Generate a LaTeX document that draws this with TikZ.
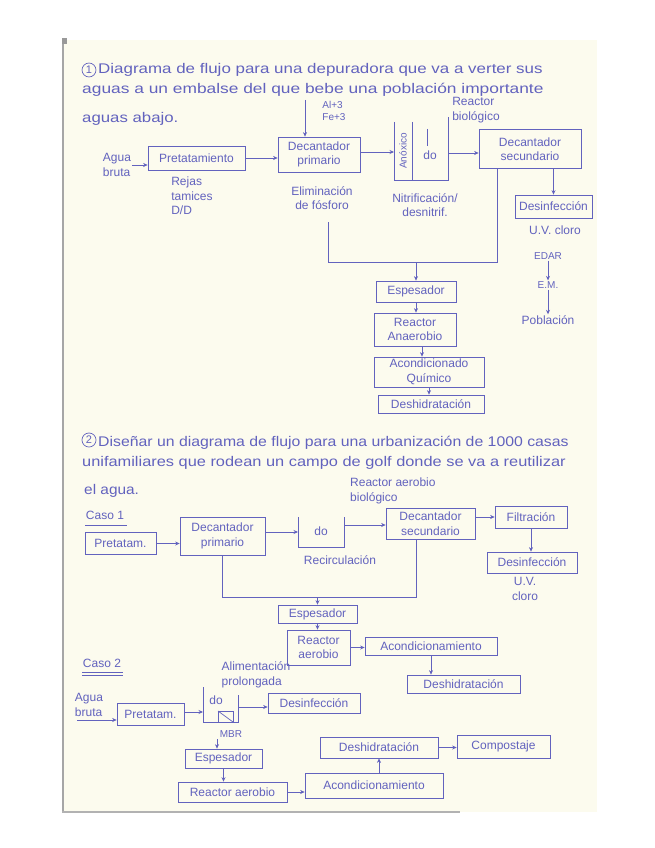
\documentclass[tikz,border=0pt]{standalone}
\usepackage{fontspec}
\usepackage{graphicx}
\setmainfont{Liberation Sans}
\usetikzlibrary{arrows.meta}
\definecolor{ink}{RGB}{98,98,190}
\definecolor{paper}{RGB}{252,251,238}
\tikzset{
 lbl/.style={text=ink,font=\fontsize{12}{14.5}\selectfont,inner sep=1pt,align=center},
 lbll/.style={lbl,align=left},
 small/.style={lbl,font=\fontsize{10}{12.5}\selectfont},
 ttl/.style={text=ink,font=\fontsize{14}{17}\selectfont,inner sep=0pt,anchor=base west},
 num/.style={draw=ink,circle,line width=0.7pt,inner sep=1.5pt,text=ink,font=\fontsize{11}{12}\selectfont},
 box/.style={draw=ink,line width=0.7pt,text=ink,font=\fontsize{12}{14.5}\selectfont,inner sep=0pt,align=center},
 flow/.style={draw=ink,line width=0.7pt,-{Stealth[length=4.5pt,width=4pt]}},
 wire/.style={draw=ink,line width=0.7pt},
}
\begin{document}
\begin{tikzpicture}[x=1pt,y=-1pt]
\useasboundingbox (0,0) rectangle (655,848);
% paper
\fill[paper] (62,40) rectangle (597,812);
\draw[gray!70,line width=1.5pt] (63,40) -- (63,812);
\draw[gray!60,line width=1.2pt] (62,812) -- (460,812);
\fill[gray!80] (62,38) rectangle (67,44);

%================ Section 1 =================
\node[num] (c1) at (89,70) {1};
\node[ttl] (t1a) at (98,74) {\scalebox{1.21}[1]{Diagrama de flujo para una depuradora que va a verter sus}};
\node[ttl] (t1b) at (82,94) {\scalebox{1.24}[1]{aguas a un embalse del que bebe una población importante}};
\node[ttl] (t1c) at (82,122) {\scalebox{1.2}[1]{aguas abajo.}};

\node[lbll] (aguab) at (117,165) {Agua\\bruta};
\node[box,minimum width=97pt,minimum height=24pt] (pret1) at (196.5,158) {Pretatamiento};
\node[lbll] (rejas) at (192,196) {Rejas\\tamices\\D/D};
\node[box,minimum width=82pt,minimum height=35pt] (dec1) at (319,154.5) {Decantador\\primario};
\node[small,align=left] (alfe) at (334,111) {Al+3\\Fe+3};
\coordinate (alin) at (305,100);
\node[lbl] (elim) at (322,198) {Eliminación\\de fósforo};

% reactor 1
\draw[wire] (394,122) -- (394,180) -- (448,180) -- (448,117);
\draw[wire] (412,122) -- (412,180);
\node[small,rotate=90] (anox) at (403,151) {Anóxico};
\draw[wire] (427,129) -- (427,146);
\node[lbl] (do1) at (430,155) {do};
\coordinate (r1in) at (394,152);
\coordinate (r1out) at (448,153);
\node[lbll] (rb1) at (476,110) {Reactor\\biológico};
\node[lbl] (nitri) at (425,205) {Nitrificación/\\desnitrif.};

\node[box,minimum width=102pt,minimum height=39pt] (dec2) at (530,149) {Decantador\\secundario};
\node[box,minimum width=77pt,minimum height=23pt] (desinf1) at (553.5,206.5) {Desinfección};
\node[lbl] (uv1) at (555,230) {U.V. cloro};
\node[small] (edar) at (548,256) {EDAR};
\node[small] (em) at (548,285) {E.M.};
\node[lbl] (pobl) at (548,320) {Población};

\node[box,minimum width=80pt,minimum height=21pt] (esp1) at (416,291.5) {Espesador};
\node[box,minimum width=82pt,minimum height=33pt] (rean1) at (415,329.5) {Reactor\\Anaerobio};
\node[box,minimum width=110pt,minimum height=30pt] (acon1) at (429,372) {Acondicionado\\Químico};
\node[box,minimum width=106pt,minimum height=18pt] (desh1) at (431,404) {Deshidratación};

\coordinate (s1a) at (328,222);
\coordinate (s1b) at (497,262);

\draw[flow] (aguab.east) -- (aguab.east -| pret1.west);
\draw[flow] (pret1.east) -- (pret1.east -| dec1.west);
\draw[flow] (alin) -- (alin |- dec1.north);
\draw[flow] (dec1.east |- r1in) -- (r1in);
\draw[flow] (r1out) -- (r1out -| dec2.west);
\draw[flow] (desinf1.north |- dec2.south) -- (desinf1.north);
\draw[flow] (edar.south) -- (em.north);
\draw[flow] (em.south) -- (pobl.north);
\draw[wire] (s1a) |- (s1b) -- (s1b |- dec2.south);
\draw[flow] (esp1.north |- s1b) -- (esp1.north);
\draw[flow] (esp1.south) -- (esp1.south |- rean1.north);
\draw[flow] (rean1.south -| 422,0) -- (acon1.north -| 422,0);
\draw[flow] (acon1.south) -- (acon1.south |- desh1.north);

%================ Section 2 =================
\node[num] (c2) at (89,440) {2};
\node[ttl] (t2a) at (98,446) {\scalebox{1.13}[1]{Diseñar un diagrama de flujo para una urbanización de 1000 casas}};
\node[ttl] (t2b) at (82,466) {\scalebox{1.17}[1]{unifamiliares que rodean un campo de golf donde se va a reutilizar}};
\node[ttl] (t2c) at (84,494) {\scalebox{1.1}[1]{el agua.}};

\node[lbl] (caso1) at (105,515) {Caso 1};
\draw[wire] (85,525) -- (127,525);

\node[box,minimum width=71pt,minimum height=22pt] (pret2) at (120.5,543.5) {Pretatam.};
\node[box,minimum width=85pt,minimum height=38pt] (dec3) at (222.5,536) {Decantador\\primario};
\draw[wire] (298,517) -- (298,547) -- (344,547) -- (344,517);
\node[lbl] (do2) at (321,531) {do};
\coordinate (r2in) at (298,532);
\coordinate (r2out) at (344,525);
\node[lbl] (recir) at (340,560) {Recirculación};
\node[lbll,anchor=west] (rab) at (349,491) {Reactor aerobio\\biológico};
\node[box,minimum width=89pt,minimum height=31pt] (dec4) at (430.5,523.5) {Decantador\\secundario};
\node[box,minimum width=72pt,minimum height=22pt] (filt) at (531,517) {Filtración};
\node[box,minimum width=90pt,minimum height=21pt] (desinf2) at (532,562.5) {Desinfección};
\node[lbl] (uv2) at (525,589) {U.V.\\cloro};

\node[box,minimum width=79pt,minimum height=18pt] (esp2) at (317.5,614) {Espesador};
\node[box,minimum width=63pt,minimum height=35pt] (rae2) at (318.5,647.5) {Reactor\\aerobio};
\node[box,minimum width=132pt,minimum height=18pt] (acond2) at (431,646) {Acondicionamiento};
\node[box,minimum width=113pt,minimum height=18pt] (desh2) at (463.5,684) {Deshidratación};
\coordinate (s2b) at (416,597);

\draw[flow] (pret2.east) -- (pret2.east -| dec3.west);
\draw[flow] (dec3.east |- r2in) -- (r2in);
\draw[flow] (r2out) -- (r2out -| dec4.west);
\draw[flow] (dec4.east |- filt) -- (filt.west);
\draw[flow] (filt.south) -- (filt.south |- desinf2.north);
\draw[wire] (dec3.south) |- (s2b) -- (s2b |- dec4.south);
\draw[flow] (esp2.north |- s2b) -- (esp2.north);
\draw[flow] (esp2.south) -- (esp2.south |- rae2.north);
\draw[flow] (rae2.east) -- (rae2.east -| acond2.west);
\draw[flow] (acond2.south) -- (acond2.south |- desh2.north);

% Caso 2
\node[lbl] (caso2) at (102,663) {Caso 2};
\draw[wire] (82,672) -- (123,672);
\draw[wire] (82,675.5) -- (123,675.5);
\node[lbll] (agua2) at (89,705) {Agua\\bruta};
\coordinate (ab2) at (77,720);
\node[box,minimum width=67pt,minimum height=22pt] (pret3) at (150.5,714) {Pretatam.};
\draw[wire] (203,687) -- (203,722) -- (238,722) -- (238,695);
\draw[wire] (218,711) rectangle (233,722);
\draw[wire] (218,711) -- (233,722);
\node[lbl] (do3) at (216,700) {do};
\node[small] (mbr) at (231,734) {MBR};
\node[lbll] (alim) at (256,675) {Alimentación\\prolongada};
\coordinate (mbrin) at (203,712);
\coordinate (mbrout) at (238,707);
\coordinate (mbrdn) at (217,739);
\node[box,minimum width=92pt,minimum height=20pt] (desinf3) at (314,703) {Desinfección};
\node[box,minimum width=77pt,minimum height=19pt] (esp3) at (223.5,758.5) {Espesador};
\node[box,minimum width=109pt,minimum height=20pt] (rae3) at (232.5,792) {Reactor aerobio};
\node[box,minimum width=138pt,minimum height=25pt] (acond3) at (374,785.5) {Acondicionamiento};
\node[box,minimum width=118pt,minimum height=21pt] (desh3) at (379,747.5) {Deshidratación};
\node[box,minimum width=93pt,minimum height=23pt] (comp) at (503.5,746.5) {Compostaje};

\draw[flow] (ab2) -- (ab2 -| pret3.west);
\draw[flow] (pret3.east |- mbrin) -- (mbrin);
\draw[flow] (mbrout) -- (mbrout -| desinf3.west);
\draw[flow] (mbrdn) -- (mbrdn |- esp3.north);
\draw[flow] (esp3.south) -- (esp3.south |- rae3.north);
\draw[flow] (rae3.east) -- (rae3.east -| acond3.west);
\draw[flow] (desh3.south |- acond3.north) -- (desh3.south);
\draw[flow] (desh3.east) -- (desh3.east -| comp.west);
\end{tikzpicture}
\end{document}
